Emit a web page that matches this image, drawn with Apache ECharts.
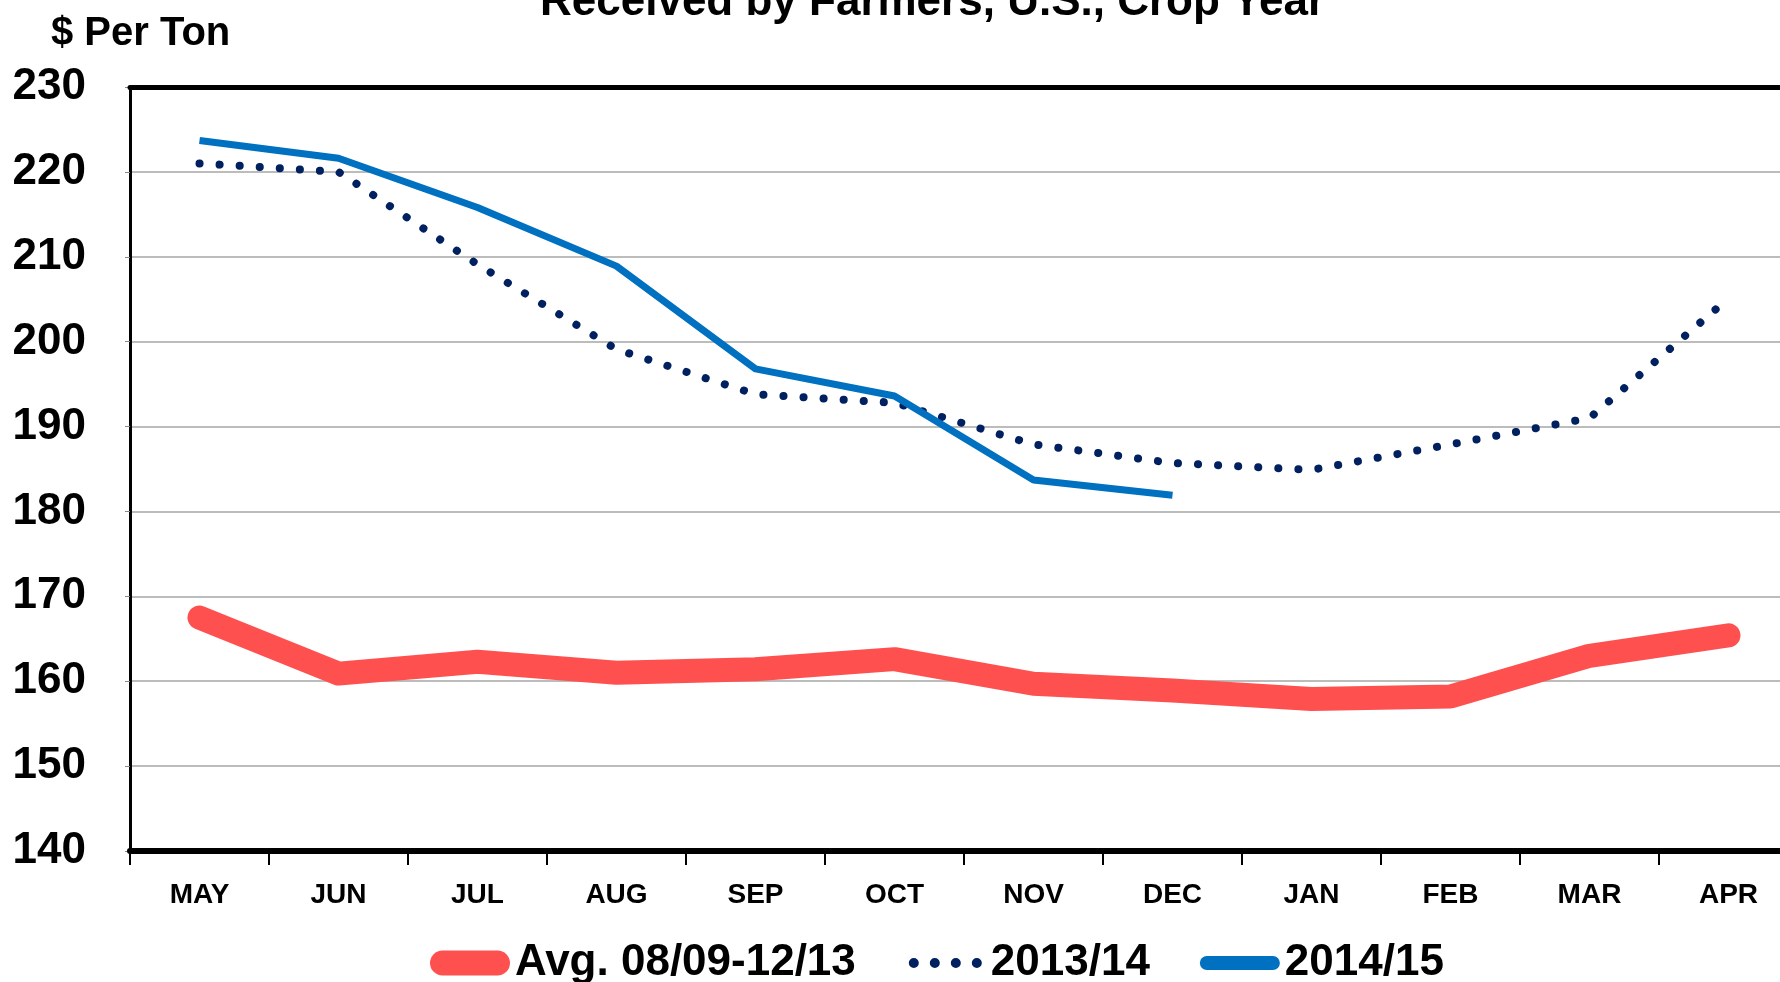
<!DOCTYPE html>
<html>
<head>
<meta charset="utf-8">
<script src="https://cdn.jsdelivr.net/npm/echarts@6/dist/echarts.min.js"></script>
<style>
  html, body { margin: 0; padding: 0; background: #fff; }
  #chart-container { width: 1780px; height: 982px; }
</style>
</head>
<body>
<div id="chart-container"></div>
<script>
// 月份（作物年度 5 月 - 次年 4 月）
var months = ["MAY", "JUN", "JUL", "AUG", "SEP", "OCT", "NOV", "DEC", "JAN", "FEB", "MAR", "APR"];
// 三条曲线的数据
var avgValues = [167.5, 160.9, 162.3, 161.0, 161.4, 162.6, 159.7, 158.9, 157.9, 158.2, 163.0, 165.4];
var values1314 = [221.0, 220.0, 209.1, 199.1, 193.8, 192.8, 187.9, 185.7, 184.9, 187.9, 191.0, 205.1];
var values1415 = [223.7, 221.6, 215.8, 208.9, 196.8, 193.6, 183.7, 181.9];
var seriesNames = ["Avg. 08/09-12/13", "2013/14", "2014/15"];

var font = "'Liberation Sans', Arial, sans-serif";

// 图例图标（80x25 的路径，用 M 点撑开边界）
function dots() {
  var p = "path://M0,0 M80,25";
  [8, 29, 50, 71].forEach(function (cx) {
    p += " M" + (cx - 5) + ",12.5 A5,5 0 1 1 " + (cx + 5) + ",12.5 A5,5 0 1 1 " + (cx - 5) + ",12.5 Z";
  });
  return p;
}
var pillRed = "path://M12.5,0 H67.5 A12.5,12.5 0 0 1 67.5,25 H12.5 A12.5,12.5 0 0 1 12.5,0 Z";
var pillBlue = "path://M0,0 M80,25 M7,5.5 H73 A7,7 0 0 1 73,19.5 H7 A7,7 0 0 1 7,5.5 Z";

var chart_container_myChart = echarts.init(document.getElementById("chart-container"));

var chart_container_option = {
  animation: false,
  backgroundColor: "#fff",
  graphic: [
    {
      type: "text",
      left: 540,
      top: -19,
      style: { text: "Received by Farmers, U.S., Crop Year", font: "bold 44px " + font, fill: "#000" },
    },
    {
      type: "text",
      left: 51,
      top: 14,
      style: { text: "$ Per Ton", font: "bold 40px " + font, fill: "#000" },
    },
  ],
  grid: {
    left: 130,
    top: 87,
    width: 1668, // 12 个月 x 139px，右边超出画面
    bottom: 131,
    show: false,
    containLabel: false,
    outerBoundsMode: "none",
  },
  legend: {
    left: 425,
    top: 936,
    itemWidth: 80,
    itemHeight: 25,
    itemGap: 50,
    textStyle: { fontSize: 44, fontWeight: "bold", color: "#000", fontFamily: font },
    data: [
      { name: seriesNames[0], icon: pillRed, itemStyle: { color: "#ff5050", borderWidth: 0 } },
      { name: seriesNames[1], icon: dots(), itemStyle: { color: "#002060", borderWidth: 0 } },
      { name: seriesNames[2], icon: pillBlue, itemStyle: { color: "#0070c0", borderWidth: 0 } },
    ],
  },
  xAxis: [
    {
      type: "category",
      data: months,
      boundaryGap: true,
      axisLine: { lineStyle: { color: "#000", width: 6 } },
      axisTick: { show: true, length: 14, lineStyle: { color: "#000", width: 2 } },
      axisLabel: { fontSize: 28, fontWeight: "bold", color: "#000", fontFamily: font, margin: 30 },
      splitLine: { show: false },
      z: 5,
    },
    {
      // 顶部边框
      type: "category",
      data: months,
      position: "top",
      axisLine: { lineStyle: { color: "#000", width: 5 } },
      axisTick: { show: false },
      axisLabel: { show: false },
      splitLine: { show: false },
      z: 5,
    },
  ],
  yAxis: {
    type: "value",
    min: 140,
    max: 230,
    interval: 10,
    axisLine: { show: true, lineStyle: { color: "#000", width: 3 } },
    axisTick: { show: true, length: 5, lineStyle: { color: "#888", width: 1 } },
    axisLabel: { fontSize: 44, fontWeight: "bold", color: "#000", fontFamily: font, margin: 44 },
    splitLine: { show: true, lineStyle: { color: "#a6a6a6", width: 1.5 } },
  },
  series: [
    {
      name: seriesNames[0],
      type: "line",
      data: avgValues,
      symbol: "none",
      lineStyle: { color: "#ff5050", width: 24, cap: "round", join: "round" },
      itemStyle: { color: "#ff5050" },
      z: 2,
    },
    {
      name: seriesNames[1],
      type: "line",
      data: values1314,
      symbol: "none",
      lineStyle: { color: "#002060", width: 8, type: [0.1, 20], cap: "round", join: "round" },
      itemStyle: { color: "#002060" },
      z: 3,
    },
    {
      name: seriesNames[2],
      type: "line",
      data: values1415,
      symbol: "none",
      lineStyle: { color: "#0070c0", width: 7, join: "round" },
      itemStyle: { color: "#0070c0" },
      z: 4,
    },
  ],
};

chart_container_myChart.setOption(chart_container_option);
</script>
</body>
</html>
